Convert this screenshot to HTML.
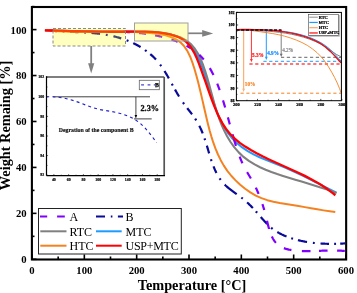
<!DOCTYPE html><html><head><meta charset="utf-8"><style>html,body{margin:0;padding:0;background:#fff;overflow:hidden}svg{display:block;will-change:transform}text{font-family:"Liberation Serif",serif}</style></head><body>
<svg width="357" height="293" viewBox="0 0 357 293">
<line x1="188" y1="33.3" x2="204" y2="33.3" stroke="#808080" stroke-width="1.7"/>
<path d="M202.2,30 L213.2,33.4 L202.2,36.8 Z" fill="#808080"/>
<line x1="91.2" y1="46" x2="91.2" y2="65" stroke="#808080" stroke-width="1.8"/>
<path d="M88.1,63.2 L91.2,73.6 L94.3,63.2 Z" fill="#808080"/>
<path d="M50.05,30.61 L50.63,30.67 L51.44,30.73 L52.25,30.80 L53.06,30.86 L53.86,30.92 L54.67,30.98 L55.48,31.04 L56.29,31.09 L57.03,31.14 M62.58,31.45 L62.77,31.46 L63.58,31.50 L64.39,31.54 L64.47,31.55 M70.03,31.79 L70.06,31.79 L70.87,31.83 L71.68,31.86 L72.49,31.90 L73.30,31.93 L74.11,31.96 L74.92,32.00 L75.73,32.04 L76.54,32.07 L77.34,32.11 L78.15,32.15 L78.53,32.16 M84.01,32.45 L84.61,32.49 L85.41,32.54 L85.90,32.57 M91.45,32.98 L91.84,33.01 L92.64,33.08 L93.44,33.15 L94.25,33.23 L95.04,33.31 L95.84,33.39 L96.64,33.47 L97.44,33.56 L98.24,33.65 L99.04,33.75 L99.83,33.85 L100.02,33.87 M105.80,34.73 L106.18,34.79 L106.97,34.93 L107.67,35.06 M113.42,36.25 L114.04,36.40 L114.82,36.59 L115.60,36.79 L116.38,36.99 L117.15,37.20 L117.93,37.41 L118.71,37.63 L119.48,37.86 L120.26,38.09 L121.03,38.33 L121.24,38.40 M126.67,40.31 L127.17,40.50 L127.92,40.80 L128.44,41.01 M133.23,43.13 L133.90,43.46 L134.63,43.82 L135.36,44.19 L136.09,44.56 L136.81,44.94 L137.53,45.33 L138.24,45.73 L138.95,46.13 L139.66,46.54 L140.36,46.96 L140.57,47.09 M145.11,50.05 L145.13,50.07 L145.79,50.54 L146.44,51.01 L146.64,51.17 M150.28,54.06 L150.84,54.55 L151.45,55.08 L152.04,55.62 L152.63,56.17 L153.21,56.72 L153.79,57.28 L154.35,57.85 L154.91,58.42 L155.46,59.00 L156.00,59.59 M160.11,64.57 L160.55,65.16 L161.02,65.80 L161.23,66.10 M164.56,71.08 L164.59,71.14 L165.02,71.82 L165.44,72.51 L165.86,73.20 L166.27,73.89 L166.68,74.59 L167.09,75.29 L167.50,75.99 L167.90,76.69 L168.30,77.39 L168.70,78.10 L168.86,78.38 M171.85,83.80 L172.22,84.48 L172.61,85.19 L172.76,85.47 M175.03,89.58 L175.35,90.15 L175.74,90.85 L176.14,91.55 L176.55,92.25 L176.95,92.95 L177.36,93.64 L177.76,94.34 L178.18,95.03 L178.59,95.72 L179.01,96.41 L179.07,96.50 M182.98,102.48 L183.45,103.14 L183.92,103.80 L184.09,104.03 M187.22,108.15 L187.35,108.31 L187.85,108.95 L188.36,109.59 L188.86,110.23 L189.36,110.86 L189.86,111.50 L190.36,112.14 L190.85,112.78 L191.35,113.42 L191.84,114.06 L192.02,114.31 M195.18,118.71 L195.56,119.29 L195.99,119.96 L196.21,120.30 M199.33,125.84 L199.51,126.19 L199.86,126.90 L200.21,127.62 L200.54,128.34 L200.88,129.06 L201.20,129.79 L201.52,130.52 L201.83,131.25 L202.14,131.99 L202.44,132.73 L202.71,133.40 M204.53,138.36 L204.67,138.78 L204.93,139.55 L205.13,140.16 M206.86,145.66 L206.89,145.77 L207.12,146.56 L207.36,147.34 L207.59,148.13 L207.82,148.92 L208.05,149.70 L208.29,150.49 L208.52,151.28 L208.75,152.07 L208.98,152.85 L209.14,153.39 M210.95,159.25 L211.16,159.88 L211.41,160.65 L211.55,161.05 M213.49,166.39 L213.62,166.71 L213.92,167.45 L214.22,168.19 L214.53,168.92 L214.85,169.65 L215.18,170.37 L215.51,171.09 L215.86,171.80 L216.21,172.51 L216.42,172.93 M219.60,178.35 L219.76,178.60 L220.21,179.24 L220.66,179.87 L220.69,179.91 M224.70,184.60 L224.75,184.65 L225.31,185.21 L225.89,185.76 L226.49,186.30 L227.09,186.83 L227.70,187.36 L228.32,187.88 L228.96,188.39 L229.60,188.90 L230.24,189.41 L230.89,189.91 L231.55,190.40 L232.22,190.90 L232.88,191.39 L233.55,191.88 L234.23,192.36 L234.90,192.85 L235.58,193.33 L236.26,193.82 L236.72,194.15 M241.32,197.53 L241.60,197.75 L242.24,198.25 L242.81,198.70 M247.11,202.39 L247.19,202.47 L247.78,203.01 L248.37,203.57 L248.95,204.12 L249.53,204.68 L250.10,205.24 L250.67,205.81 L251.23,206.38 L251.79,206.96 L252.35,207.54 L252.89,208.11 M255.89,211.38 L256.16,211.69 L256.69,212.29 L257.15,212.81 M260.80,217.04 L260.93,217.19 L261.46,217.81 L261.99,218.42 L262.53,219.03 L263.06,219.63 L263.60,220.23 L264.14,220.83 L264.69,221.43 L265.24,222.02 L265.79,222.60 L266.35,223.18 L266.91,223.75 L267.23,224.07 M271.20,227.70 L271.62,228.05 L272.24,228.54 L272.69,228.89 M277.32,232.01 L277.49,232.11 L278.17,232.51 L278.86,232.91 L279.56,233.29 L280.27,233.66 L280.98,234.02 L281.69,234.38 L282.42,234.73 L283.14,235.06 L283.87,235.39 L284.61,235.71 L285.35,236.03 L286.09,236.33 L286.52,236.50 M291.24,238.20 L291.39,238.25 L292.16,238.50 L292.93,238.74 L293.05,238.78 M297.94,240.13 L298.38,240.24 L299.17,240.43 L299.95,240.61 L300.74,240.79 L301.53,240.96 L302.33,241.13 L303.12,241.29 L303.92,241.45 L304.71,241.59 L305.51,241.74 L306.31,241.88 L307.03,242.00 M312.89,242.81 L313.55,242.89 L314.36,242.97 L314.78,243.02 M320.49,243.49 L320.84,243.51 L321.65,243.56 L322.46,243.60 L323.27,243.64 L324.09,243.67 L324.90,243.71 L325.71,243.73 L326.52,243.76 L327.33,243.78 L328.14,243.79 L328.95,243.81 L329.00,243.81 M334.16,243.81 L334.60,243.80 L335.41,243.79 L336.06,243.77 M340.21,243.64 L340.21,243.64 L341.01,243.61 L341.81,243.58 L342.60,243.54 L343.39,243.50 L344.19,243.45 L344.97,243.41" fill="none" stroke="#0a0a9a" stroke-width="2.2"/>
<path d="M44.88,30.35L50.95,30.50 56.96,30.66 63.67,30.83 70.33,31.01 76.96,31.18 83.57,31.35 90.16,31.49 96.76,31.62 103.36,31.72 109.98,31.79 116.63,31.83 123.32,31.82 130.06,31.77 136.10,31.70 142.17,31.66 148.23,31.75 154.27,32.01 160.27,32.55 166.92,33.56 173.44,35.10 179.67,37.34 184.71,40.09 189.07,43.67 193.20,48.59 196.64,54.21 199.55,60.30 201.81,65.89 204.11,72.21 206.22,78.54 208.22,84.89 210.17,91.26 212.14,97.65 214.19,104.06 216.16,109.74 218.60,116.03 221.37,122.13 224.54,127.98 228.20,133.48 232.40,138.56 237.10,143.21 242.23,147.41 247.74,151.14 253.55,154.40 259.60,157.26 265.80,159.85 272.06,162.31 278.29,164.79 284.45,167.36 290.56,170.03 296.60,172.82 302.60,175.71 308.57,178.69 314.51,181.70 320.46,184.72 326.43,187.71 332.42,190.64 336.44,192.53" fill="none" stroke="#1e9bff" stroke-width="2.0" stroke-linejoin="round"/>
<path d="M44.96,30.28L51.02,30.52 57.06,30.73 63.09,30.91 69.10,31.06 75.11,31.19 81.85,31.31 88.59,31.41 95.33,31.48 102.08,31.54 108.82,31.58 114.83,31.61 120.85,31.63 126.88,31.65 132.92,31.67 138.98,31.71 145.04,31.84 151.09,32.11 157.13,32.56 163.14,33.26 169.12,34.26 175.04,35.63 181.41,37.83 186.56,40.58 190.52,43.74 194.86,48.72 198.08,53.80 200.78,59.30 203.07,65.01 205.09,70.75 206.89,76.49 208.74,82.94 210.48,89.41 212.20,95.88 213.98,102.37 215.67,108.16 217.53,113.96 219.57,119.70 221.83,125.36 224.32,130.89 227.08,136.24 230.54,141.99 234.41,147.40 238.73,152.39 243.54,156.91 248.85,160.91 254.61,164.44 260.02,167.22 265.63,169.72 271.38,171.97 277.21,174.03 283.05,175.93 288.84,177.73 295.26,179.66 301.61,181.55 307.94,183.45 314.27,185.38 320.64,187.42 326.36,189.34 332.17,191.40 336.59,193.05" fill="none" stroke="#808080" stroke-width="2.1" stroke-linejoin="round"/>
<path d="M123.02,31.81 L123.46,31.83 L124.33,31.87 L125.19,31.91 L126.06,31.95 L126.92,32.00 L127.79,32.05 L128.65,32.10 L129.52,32.15 L130.02,32.19 M138.99,32.96 L139.02,32.96 L139.88,33.05 L140.74,33.15 L141.61,33.25 L142.47,33.35 L143.33,33.46 L144.19,33.57 L145.06,33.69 L145.92,33.81 L145.94,33.81 M155.11,35.35 L155.40,35.41 L156.26,35.58 L157.12,35.76 L157.98,35.94 L158.84,36.13 L159.71,36.32 L160.57,36.52 L161.43,36.73 L162.20,36.91 M171.48,39.53 L171.71,39.60 L172.55,39.88 L173.39,40.16 L174.23,40.45 L175.07,40.75 L175.91,41.06 L176.74,41.37 L177.56,41.69 L177.65,41.72 M186.54,45.80 L187.12,46.12 L187.88,46.54 L188.64,46.97 L189.38,47.41 L190.12,47.86 L190.85,48.32 L190.92,48.36 M199.35,54.86 L199.62,55.11 L200.22,55.70 L200.82,56.30 L201.41,56.91 L201.99,57.54 L202.56,58.17 L203.12,58.81 L203.67,59.46 L203.77,59.57 M209.79,68.17 L210.06,68.62 L210.49,69.37 L210.92,70.13 L211.35,70.89 L211.76,71.66 L212.17,72.44 L212.57,73.22 L212.97,74.00 L213.36,74.79 L213.43,74.93 M217.20,83.56 L217.26,83.71 L217.58,84.54 L217.90,85.37 L218.22,86.20 L218.53,87.03 L218.83,87.86 L219.14,88.70 L219.43,89.53 L219.67,90.21 M223.03,100.43 L223.28,101.24 L223.54,102.07 L223.79,102.91 L224.04,103.74 L224.29,104.58 L224.53,105.41 L224.78,106.25 L225.02,107.09 L225.14,107.49 M227.89,117.35 L228.06,117.94 L228.28,118.78 L228.51,119.61 L228.74,120.45 L228.96,121.28 L229.19,122.12 L229.42,122.95 L229.64,123.79 L229.80,124.38 M232.53,134.26 L232.63,134.64 L232.87,135.48 L233.11,136.31 L233.35,137.15 L233.59,137.98 L233.83,138.82 L234.07,139.65 L234.32,140.49 L234.57,141.32 L234.82,142.16 L235.07,142.99 L235.33,143.83 L235.58,144.66 L235.84,145.50 L235.97,145.89 M239.69,156.73 L239.83,157.10 L240.15,157.92 L240.47,158.73 L240.80,159.54 L241.14,160.35 L241.48,161.16 L241.83,161.96 L242.18,162.76 L242.44,163.33 M247.08,172.15 L247.45,172.78 L247.90,173.53 L248.35,174.28 L248.80,175.02 L249.25,175.77 L249.70,176.51 L250.15,177.26 L250.60,178.01 L250.90,178.52 M255.80,187.60 L255.99,188.00 L256.36,188.80 L256.73,189.59 L257.09,190.39 L257.44,191.18 L257.79,191.99 L258.13,192.79 L258.47,193.59 L258.62,193.96 M262.41,204.10 L262.66,204.86 L262.92,205.67 L263.18,206.48 L263.44,207.30 L263.69,208.11 L263.94,208.94 L264.19,209.76 L264.26,210.01 M266.98,220.65 L267.05,220.94 L267.25,221.83 L267.47,222.72 L267.68,223.61 L267.90,224.49 L268.12,225.37 L268.35,226.25 L268.58,227.13 L268.82,228.00 L269.07,228.87 L269.07,228.89 M271.84,236.45 L272.12,237.02 L272.50,237.77 L272.89,238.50 L273.31,239.22 L273.74,239.91 L274.19,240.59 L274.66,241.25 L275.15,241.89 L275.67,242.51 L275.97,242.85 M283.90,248.13 L284.51,248.35 L285.34,248.64 L286.19,248.90 L287.06,249.14 L287.93,249.36 L288.82,249.57 L289.72,249.76 L290.63,249.93 L291.41,250.06 M301.88,251.03 L302.61,251.05 L303.50,251.08 L304.39,251.10 L305.27,251.12 L306.15,251.13 L307.02,251.13 L307.89,251.13 L308.75,251.13 L309.61,251.12 L310.47,251.11 L310.51,251.11 M319.00,250.85 L319.71,250.82 L320.54,250.79 L321.37,250.75 L322.21,250.72 L323.04,250.69 L323.88,250.66 L324.71,250.63 L325.55,250.60 L326.39,250.57 L327.23,250.55 L327.59,250.54 M337.11,250.53 L337.62,250.55 L338.51,250.58 L339.42,250.62 L340.33,250.67 L341.25,250.72 L342.17,250.78 L343.10,250.85 L344.05,250.93 L344.80,250.99" fill="none" stroke="#8000ff" stroke-width="2.2"/>
<path d="M44.90,30.08L51.34,30.68 57.73,31.14 64.09,31.45 70.43,31.65 76.74,31.76 83.04,31.80 89.33,31.78 95.61,31.74 101.90,31.68 108.19,31.63 114.49,31.61 120.81,31.64 127.16,31.74 133.53,31.93 139.94,32.24 146.39,32.68 152.88,33.27 159.35,34.10 165.63,35.37 171.56,37.23 176.98,39.87 180.61,42.48 183.80,45.70 187.33,50.89 190.19,56.73 192.52,62.84 194.49,69.02 196.27,75.19 197.91,81.31 199.44,87.41 200.90,93.50 202.30,99.60 203.69,105.70 205.08,111.84 206.51,118.01 208.01,124.22 209.63,130.42 211.39,136.58 213.34,142.68 215.52,148.66 217.97,154.51 220.73,160.17 223.83,165.62 227.33,170.83 231.24,175.75 235.56,180.38 240.21,184.74 245.13,188.79 250.32,192.43 255.77,195.54 261.44,198.12 267.34,200.18 273.43,201.75 279.68,202.95 285.99,203.95 292.31,204.93 298.58,206.00 304.82,207.11 311.05,208.24 317.28,209.34 323.52,210.37 329.78,211.30 335.29,212.01" fill="none" stroke="#f58220" stroke-width="2.0" stroke-linejoin="round"/>
<path d="M44.93,30.33L51.66,30.52 58.35,30.71 65.01,30.89 71.65,31.07 78.27,31.23 84.88,31.37 91.49,31.50 98.09,31.61 104.70,31.69 111.32,31.74 117.96,31.76 124.62,31.75 131.32,31.70 138.04,31.64 144.77,31.67 151.49,31.89 158.18,32.40 164.82,33.31 171.38,34.73 177.74,36.80 182.89,39.42 186.79,42.46 190.53,46.74 194.00,52.33 196.58,57.74 198.85,63.37 200.94,69.01 203.18,75.27 205.35,81.49 207.50,87.67 209.69,93.87 211.96,100.10 214.38,106.37 216.71,111.92 219.25,117.37 222.44,123.29 226.04,128.88 230.11,134.03 234.73,138.67 239.80,142.83 245.21,146.60 250.87,150.06 256.66,153.29 262.56,156.33 268.54,159.23 274.58,162.02 280.65,164.75 286.74,167.46 292.82,170.19 298.86,172.98 304.84,175.88 310.74,178.92 316.53,182.14 322.19,185.60 327.70,189.32 333.04,193.36 335.35,195.26" fill="none" stroke="#ff0000" stroke-width="2.3" stroke-linejoin="round"/>
<rect x="53" y="28.5" width="72.5" height="17.5" fill="rgb(255,255,0)" fill-opacity="0.25" stroke="#8a8a8a" stroke-width="1" stroke-dasharray="3,2"/>
<rect x="134.5" y="23" width="53.5" height="18" fill="rgb(255,255,0)" fill-opacity="0.25" stroke="#a0a0a0" stroke-width="1"/>
<rect x="46.5" y="77.0" width="117.69999999999999" height="98.69999999999999" fill="#fff" stroke="none"/>
<line x1="46.5" y1="175.20" x2="48.1" y2="175.20" stroke="#000" stroke-width="0.6"/>
<text x="44.2" y="176.30" font-size="3.9" font-weight="bold" stroke="#000" stroke-width="0.18" text-anchor="end">92</text>
<line x1="46.5" y1="165.40" x2="47.5" y2="165.40" stroke="#000" stroke-width="0.6"/>
<line x1="46.5" y1="155.60" x2="48.1" y2="155.60" stroke="#000" stroke-width="0.6"/>
<text x="44.2" y="156.70" font-size="3.9" font-weight="bold" stroke="#000" stroke-width="0.18" text-anchor="end">94</text>
<line x1="46.5" y1="145.80" x2="47.5" y2="145.80" stroke="#000" stroke-width="0.6"/>
<line x1="46.5" y1="136.00" x2="48.1" y2="136.00" stroke="#000" stroke-width="0.6"/>
<text x="44.2" y="137.10" font-size="3.9" font-weight="bold" stroke="#000" stroke-width="0.18" text-anchor="end">96</text>
<line x1="46.5" y1="126.20" x2="47.5" y2="126.20" stroke="#000" stroke-width="0.6"/>
<line x1="46.5" y1="116.40" x2="48.1" y2="116.40" stroke="#000" stroke-width="0.6"/>
<text x="44.2" y="117.50" font-size="3.9" font-weight="bold" stroke="#000" stroke-width="0.18" text-anchor="end">98</text>
<line x1="46.5" y1="106.60" x2="47.5" y2="106.60" stroke="#000" stroke-width="0.6"/>
<line x1="46.5" y1="96.80" x2="48.1" y2="96.80" stroke="#000" stroke-width="0.6"/>
<text x="44.2" y="97.90" font-size="3.9" font-weight="bold" stroke="#000" stroke-width="0.18" text-anchor="end">100</text>
<line x1="46.5" y1="87.00" x2="47.5" y2="87.00" stroke="#000" stroke-width="0.6"/>
<line x1="46.5" y1="77.20" x2="48.1" y2="77.20" stroke="#000" stroke-width="0.6"/>
<text x="44.2" y="78.30" font-size="3.9" font-weight="bold" stroke="#000" stroke-width="0.18" text-anchor="end">102</text>
<line x1="53.88" y1="175.7" x2="53.88" y2="174.1" stroke="#000" stroke-width="0.6"/>
<text x="53.88" y="181.30" font-size="3.9" font-weight="bold" stroke="#000" stroke-width="0.18" text-anchor="middle">40</text>
<line x1="61.26" y1="175.7" x2="61.26" y2="174.7" stroke="#000" stroke-width="0.6"/>
<line x1="68.64" y1="175.7" x2="68.64" y2="174.1" stroke="#000" stroke-width="0.6"/>
<text x="68.64" y="181.30" font-size="3.9" font-weight="bold" stroke="#000" stroke-width="0.18" text-anchor="middle">60</text>
<line x1="76.02" y1="175.7" x2="76.02" y2="174.7" stroke="#000" stroke-width="0.6"/>
<line x1="83.40" y1="175.7" x2="83.40" y2="174.1" stroke="#000" stroke-width="0.6"/>
<text x="83.40" y="181.30" font-size="3.9" font-weight="bold" stroke="#000" stroke-width="0.18" text-anchor="middle">80</text>
<line x1="90.78" y1="175.7" x2="90.78" y2="174.7" stroke="#000" stroke-width="0.6"/>
<line x1="98.16" y1="175.7" x2="98.16" y2="174.1" stroke="#000" stroke-width="0.6"/>
<text x="98.16" y="181.30" font-size="3.9" font-weight="bold" stroke="#000" stroke-width="0.18" text-anchor="middle">100</text>
<line x1="105.54" y1="175.7" x2="105.54" y2="174.7" stroke="#000" stroke-width="0.6"/>
<line x1="112.92" y1="175.7" x2="112.92" y2="174.1" stroke="#000" stroke-width="0.6"/>
<text x="112.92" y="181.30" font-size="3.9" font-weight="bold" stroke="#000" stroke-width="0.18" text-anchor="middle">120</text>
<line x1="120.30" y1="175.7" x2="120.30" y2="174.7" stroke="#000" stroke-width="0.6"/>
<line x1="127.68" y1="175.7" x2="127.68" y2="174.1" stroke="#000" stroke-width="0.6"/>
<text x="127.68" y="181.30" font-size="3.9" font-weight="bold" stroke="#000" stroke-width="0.18" text-anchor="middle">140</text>
<line x1="135.06" y1="175.7" x2="135.06" y2="174.7" stroke="#000" stroke-width="0.6"/>
<line x1="142.44" y1="175.7" x2="142.44" y2="174.1" stroke="#000" stroke-width="0.6"/>
<text x="142.44" y="181.30" font-size="3.9" font-weight="bold" stroke="#000" stroke-width="0.18" text-anchor="middle">160</text>
<line x1="149.82" y1="175.7" x2="149.82" y2="174.7" stroke="#000" stroke-width="0.6"/>
<line x1="157.20" y1="175.7" x2="157.20" y2="174.1" stroke="#000" stroke-width="0.6"/>
<text x="157.20" y="181.30" font-size="3.9" font-weight="bold" stroke="#000" stroke-width="0.18" text-anchor="middle">180</text>
<line x1="53" y1="96.8" x2="150" y2="96.8" stroke="#404040" stroke-width="1"/>
<line x1="134" y1="118.9" x2="151.7" y2="118.9" stroke="#404040" stroke-width="1"/>
<line x1="135.9" y1="96.8" x2="135.9" y2="116" stroke="#202020" stroke-width="0.8"/>
<path d="M134.6,115 L135.9,118.6 L137.2,115 Z" fill="#000"/>
<path d="M46.20,96.80L52.21,96.71 58.41,97.21 64.54,98.24 70.59,99.73 76.55,101.59 82.19,103.66 87.79,105.83 93.65,107.90 99.63,109.48 105.76,110.56 111.69,111.53 117.60,112.75 123.39,114.35 129.20,116.52 134.68,119.32 139.71,122.84 144.25,127.13 148.24,131.70 152.03,136.39 155.66,141.37 156.58,142.81" fill="none" stroke="#2020d0" stroke-width="1.15" stroke-dasharray="3,3.2"/>
<text x="140.5" y="111.3" font-size="8.2" font-weight="bold" fill="#111" stroke="#111" stroke-width="0.3">2.3%</text>
<text x="58.7" y="131.8" font-size="5.85" font-weight="bold" fill="#111" stroke="#111" stroke-width="0.15">Degration of the component B</text>
<rect x="139.3" y="80.3" width="20" height="9.4" fill="#fff" stroke="#666" stroke-width="0.8"/>
<path d="M141.1,84.9 L144,84.9 M147.6,84.9 L150.4,84.9 M153.8,84.9 L155.3,84.9" stroke="#4545d8" stroke-width="1.1"/>
<text x="155.1" y="87.3" font-size="5.8" font-weight="bold" stroke="#000" stroke-width="0.25">B</text>
<line x1="46.5" y1="77.0" x2="164.2" y2="77.0" stroke="#555" stroke-width="1.7"/>
<line x1="164.2" y1="77.0" x2="164.2" y2="175.7" stroke="#555" stroke-width="1.7"/>
<line x1="46.5" y1="76.2" x2="46.5" y2="175.7" stroke="#000" stroke-width="1.2"/>
<line x1="46.5" y1="175.7" x2="165.0" y2="175.7" stroke="#000" stroke-width="1.2"/>
<rect x="236.4" y="12.4" width="104.99999999999997" height="88.3" fill="#fff" stroke="none"/>
<line x1="236.4" y1="100.70" x2="238.20000000000002" y2="100.70" stroke="#000" stroke-width="0.7"/>
<text x="234.6" y="102.20" font-size="4.1" font-weight="bold" stroke="#000" stroke-width="0.25" text-anchor="end">88</text>
<line x1="236.4" y1="94.39" x2="237.4" y2="94.39" stroke="#000" stroke-width="0.7"/>
<line x1="236.4" y1="88.08" x2="238.20000000000002" y2="88.08" stroke="#000" stroke-width="0.7"/>
<text x="234.6" y="89.58" font-size="4.1" font-weight="bold" stroke="#000" stroke-width="0.25" text-anchor="end">90</text>
<line x1="236.4" y1="81.77" x2="237.4" y2="81.77" stroke="#000" stroke-width="0.7"/>
<line x1="236.4" y1="75.46" x2="238.20000000000002" y2="75.46" stroke="#000" stroke-width="0.7"/>
<text x="234.6" y="76.96" font-size="4.1" font-weight="bold" stroke="#000" stroke-width="0.25" text-anchor="end">92</text>
<line x1="236.4" y1="69.15" x2="237.4" y2="69.15" stroke="#000" stroke-width="0.7"/>
<line x1="236.4" y1="62.84" x2="238.20000000000002" y2="62.84" stroke="#000" stroke-width="0.7"/>
<text x="234.6" y="64.34" font-size="4.1" font-weight="bold" stroke="#000" stroke-width="0.25" text-anchor="end">94</text>
<line x1="236.4" y1="56.53" x2="237.4" y2="56.53" stroke="#000" stroke-width="0.7"/>
<line x1="236.4" y1="50.22" x2="238.20000000000002" y2="50.22" stroke="#000" stroke-width="0.7"/>
<text x="234.6" y="51.72" font-size="4.1" font-weight="bold" stroke="#000" stroke-width="0.25" text-anchor="end">96</text>
<line x1="236.4" y1="43.91" x2="237.4" y2="43.91" stroke="#000" stroke-width="0.7"/>
<line x1="236.4" y1="37.60" x2="238.20000000000002" y2="37.60" stroke="#000" stroke-width="0.7"/>
<text x="234.6" y="39.10" font-size="4.1" font-weight="bold" stroke="#000" stroke-width="0.25" text-anchor="end">98</text>
<line x1="236.4" y1="31.29" x2="237.4" y2="31.29" stroke="#000" stroke-width="0.7"/>
<line x1="236.4" y1="24.98" x2="238.20000000000002" y2="24.98" stroke="#000" stroke-width="0.7"/>
<text x="234.6" y="26.48" font-size="4.1" font-weight="bold" stroke="#000" stroke-width="0.25" text-anchor="end">100</text>
<line x1="236.4" y1="18.67" x2="237.4" y2="18.67" stroke="#000" stroke-width="0.7"/>
<line x1="236.4" y1="12.36" x2="238.20000000000002" y2="12.36" stroke="#000" stroke-width="0.7"/>
<text x="234.6" y="13.86" font-size="4.1" font-weight="bold" stroke="#000" stroke-width="0.25" text-anchor="end">102</text>
<line x1="236.40" y1="100.7" x2="236.40" y2="98.9" stroke="#000" stroke-width="0.7"/>
<text x="236.40" y="105.90" font-size="4.5" font-weight="bold" stroke="#000" stroke-width="0.2" text-anchor="middle">200</text>
<line x1="246.95" y1="100.7" x2="246.95" y2="99.7" stroke="#000" stroke-width="0.7"/>
<line x1="257.50" y1="100.7" x2="257.50" y2="98.9" stroke="#000" stroke-width="0.7"/>
<text x="257.50" y="105.90" font-size="4.5" font-weight="bold" stroke="#000" stroke-width="0.2" text-anchor="middle">220</text>
<line x1="268.05" y1="100.7" x2="268.05" y2="99.7" stroke="#000" stroke-width="0.7"/>
<line x1="278.60" y1="100.7" x2="278.60" y2="98.9" stroke="#000" stroke-width="0.7"/>
<text x="278.60" y="105.90" font-size="4.5" font-weight="bold" stroke="#000" stroke-width="0.2" text-anchor="middle">240</text>
<line x1="289.15" y1="100.7" x2="289.15" y2="99.7" stroke="#000" stroke-width="0.7"/>
<line x1="299.70" y1="100.7" x2="299.70" y2="98.9" stroke="#000" stroke-width="0.7"/>
<text x="299.70" y="105.90" font-size="4.5" font-weight="bold" stroke="#000" stroke-width="0.2" text-anchor="middle">260</text>
<line x1="310.25" y1="100.7" x2="310.25" y2="99.7" stroke="#000" stroke-width="0.7"/>
<line x1="320.80" y1="100.7" x2="320.80" y2="98.9" stroke="#000" stroke-width="0.7"/>
<text x="320.80" y="105.90" font-size="4.5" font-weight="bold" stroke="#000" stroke-width="0.2" text-anchor="middle">280</text>
<line x1="331.35" y1="100.7" x2="331.35" y2="99.7" stroke="#000" stroke-width="0.7"/>
<line x1="341.90" y1="100.7" x2="341.90" y2="98.9" stroke="#000" stroke-width="0.7"/>
<text x="341.90" y="105.90" font-size="4.5" font-weight="bold" stroke="#000" stroke-width="0.2" text-anchor="middle">300</text>
<line x1="281" y1="57.3" x2="341" y2="57.3" stroke="#555" stroke-width="0.9" stroke-dasharray="3.2,2.6"/>
<line x1="263.4" y1="61.3" x2="341" y2="61.3" stroke="#1e9bff" stroke-width="1" stroke-dasharray="3.2,2.6"/>
<line x1="249.4" y1="64" x2="341" y2="64" stroke="#ff4a4a" stroke-width="1.4" stroke-dasharray="3.2,2.6"/>
<line x1="240.5" y1="93.2" x2="341" y2="93.2" stroke="#f58220" stroke-width="1" stroke-dasharray="3.2,2.6"/>
<line x1="243.6" y1="30" x2="243.6" y2="89.4" stroke="#f9b27a" stroke-width="1.3"/>
<path d="M242.2,88.8 L243.6,92 L245.0,88.8 Z" fill="#f9b27a"/>
<line x1="251.4" y1="30" x2="251.4" y2="59.699999999999996" stroke="#ff3030" stroke-width="1.0"/>
<path d="M250.0,59.099999999999994 L251.4,62.3 L252.8,59.099999999999994 Z" fill="#ff3030"/>
<line x1="266.3" y1="30" x2="266.3" y2="57.4" stroke="#1e9bff" stroke-width="1.0"/>
<path d="M264.90000000000003,56.8 L266.3,60.0 L267.7,56.8 Z" fill="#1e9bff"/>
<line x1="281.2" y1="30" x2="281.2" y2="54.4" stroke="#707070" stroke-width="0.9"/>
<path d="M279.8,53.8 L281.2,57.0 L282.59999999999997,53.8 Z" fill="#707070"/>
<text x="244.8" y="86.4" font-size="5.2" font-weight="bold" fill="#f58220" stroke="#f58220" stroke-width="0.15">10%</text>
<text x="252.1" y="57" font-size="5.2" font-weight="bold" fill="#ff1a1a" stroke="#ff1a1a" stroke-width="0.2">5.3%</text>
<text x="267.2" y="55" font-size="5.2" font-weight="bold" fill="#1a8cff" stroke="#1a8cff" stroke-width="0.2">4.9%</text>
<text x="282.2" y="51.5" font-size="5.2" fill="#606060" stroke="#606060" stroke-width="0.1">4.2%</text>
<path d="M236.40,29.90L242.52,29.78 248.61,30.19 254.69,30.94 260.75,31.81 266.79,32.67 272.81,33.61 278.80,34.76 284.75,36.21 290.62,38.00 296.37,40.10 301.96,42.52 307.31,45.39 312.35,48.83 317.11,52.70 321.41,57.03 325.18,61.82 328.55,66.92 331.68,72.18 334.60,77.54 337.26,83.03 339.59,88.67 340.99,92.71" fill="none" stroke="#f58220" stroke-width="0.9"/>
<path d="M236.42,29.97L242.52,30.11 248.67,30.27 254.86,30.48 261.07,30.76 267.28,31.15 273.26,31.65 279.44,32.33 285.58,33.19 291.67,34.28 297.70,35.61 303.65,37.22 309.51,39.14 315.25,41.40 320.82,44.05 326.15,47.16 331.19,50.75 336.23,54.32 340.93,56.71" fill="none" stroke="#808080" stroke-width="1.0"/>
<path d="M236.41,29.81L242.49,29.80 248.62,29.78 254.79,29.80 260.98,29.89 267.17,30.08 273.36,30.41 279.53,30.92 285.65,31.65 291.73,32.62 297.73,33.88 303.65,35.47 309.47,37.42 315.17,39.76 320.66,42.56 325.83,45.88 330.58,49.78 334.88,54.22 338.99,58.85 340.97,61.03" fill="none" stroke="#1e9bff" stroke-width="1.0"/>
<path d="M236.40,29.60L242.40,29.56 248.61,29.56 254.80,29.63 260.98,29.81 267.14,30.11 273.30,30.57 279.46,31.22 285.63,32.09 291.54,33.16 297.39,34.48 303.38,36.15 309.25,38.15 314.96,40.52 320.39,43.39 325.39,46.98 330.04,51.11 334.29,55.37 338.49,59.95 341.02,62.87" fill="none" stroke="#e81010" stroke-width="1.4"/>
<line x1="236.4" y1="29.9" x2="281.5" y2="29.9" stroke="#2a0008" stroke-width="1.5" stroke-dasharray="3.2,1.5"/>
<rect x="309.2" y="15" width="30.5" height="21.6" fill="#a8a8a8"/>
<rect x="308.4" y="14.3" width="30.3" height="21.2" fill="#fff" stroke="#444" stroke-width="0.6"/>
<line x1="309.3" y1="17.20" x2="317.8" y2="17.20" stroke="#808080" stroke-width="0.9"/>
<text x="318.8" y="18.70" font-size="4.3" font-weight="bold" stroke="#000" stroke-width="0.22">RTC</text>
<line x1="309.3" y1="22.45" x2="317.8" y2="22.45" stroke="#1e9bff" stroke-width="1.2"/>
<text x="318.8" y="23.95" font-size="4.3" font-weight="bold" stroke="#000" stroke-width="0.22">MTC</text>
<line x1="309.3" y1="27.70" x2="317.8" y2="27.70" stroke="#f9a860" stroke-width="1.2"/>
<text x="318.8" y="29.20" font-size="4.3" font-weight="bold" stroke="#000" stroke-width="0.22">HTC</text>
<line x1="309.3" y1="32.95" x2="317.8" y2="32.95" stroke="#ff5a5a" stroke-width="1.8"/>
<text x="318.8" y="34.45" font-size="4.3" font-weight="bold" stroke="#000" stroke-width="0.22">USP+MTC</text>
<rect x="236.4" y="12.4" width="104.99999999999997" height="88.3" fill="none" stroke="#000" stroke-width="1.0"/>
<rect x="38.5" y="208.5" width="142.8" height="45.5" fill="#fff" stroke="#222" stroke-width="1"/>
<path d="M40,216.5 L47.2,216.5 M57.1,216.5 L64.8,216.5" stroke="#8000ff" stroke-width="2.2"/>
<line x1="40.3" y1="231.3" x2="66.5" y2="231.3" stroke="#808080" stroke-width="2"/>
<line x1="40.3" y1="245.7" x2="66.5" y2="245.7" stroke="#f58220" stroke-width="2"/>
<path d="M96,216.5 L105,216.5 M110.8,216.5 L112.4,216.5 M117.9,216.5 L123,216.5" stroke="#0a0a9a" stroke-width="2.2"/>
<line x1="96" y1="231.3" x2="121.7" y2="231.3" stroke="#1e9bff" stroke-width="2"/>
<line x1="96" y1="245.7" x2="121.7" y2="245.7" stroke="#ff0000" stroke-width="2"/>
<text x="69.5" y="220.5" font-size="12">A</text>
<text x="69.5" y="235.5" font-size="12">RTC</text>
<text x="69.5" y="249.9" font-size="12">HTC</text>
<text x="125.5" y="220.5" font-size="12">B</text>
<text x="125.5" y="235.5" font-size="12">MTC</text>
<text x="125.5" y="249.9" font-size="12" textLength="53.2">USP+MTC</text>
<rect x="31.9" y="7" width="314.25" height="252.5" fill="none" stroke="#000" stroke-width="2.1"/>
<line x1="32" y1="259.30" x2="36.5" y2="259.30" stroke="#000" stroke-width="1.6"/>
<text x="26.6" y="263.20" font-size="10.7" font-weight="bold" text-anchor="end">0</text>
<line x1="32" y1="236.33" x2="34.5" y2="236.33" stroke="#000" stroke-width="1.6"/>
<line x1="32" y1="213.36" x2="36.5" y2="213.36" stroke="#000" stroke-width="1.6"/>
<text x="26.6" y="217.26" font-size="10.7" font-weight="bold" text-anchor="end">20</text>
<line x1="32" y1="190.39" x2="34.5" y2="190.39" stroke="#000" stroke-width="1.6"/>
<line x1="32" y1="167.42" x2="36.5" y2="167.42" stroke="#000" stroke-width="1.6"/>
<text x="26.6" y="171.32" font-size="10.7" font-weight="bold" text-anchor="end">40</text>
<line x1="32" y1="144.45" x2="34.5" y2="144.45" stroke="#000" stroke-width="1.6"/>
<line x1="32" y1="121.48" x2="36.5" y2="121.48" stroke="#000" stroke-width="1.6"/>
<text x="26.6" y="125.38" font-size="10.7" font-weight="bold" text-anchor="end">60</text>
<line x1="32" y1="98.51" x2="34.5" y2="98.51" stroke="#000" stroke-width="1.6"/>
<line x1="32" y1="75.54" x2="36.5" y2="75.54" stroke="#000" stroke-width="1.6"/>
<text x="26.6" y="79.44" font-size="10.7" font-weight="bold" text-anchor="end">80</text>
<line x1="32" y1="52.57" x2="34.5" y2="52.57" stroke="#000" stroke-width="1.6"/>
<line x1="32" y1="29.60" x2="36.5" y2="29.60" stroke="#000" stroke-width="1.6"/>
<text x="26.6" y="33.50" font-size="10.7" font-weight="bold" text-anchor="end">100</text>
<line x1="32" y1="6.63" x2="34.5" y2="6.63" stroke="#000" stroke-width="1.6"/>
<line x1="32.00" y1="259" x2="32.00" y2="254.5" stroke="#000" stroke-width="1.6"/>
<text x="32.00" y="273.9" font-size="10.7" font-weight="bold" text-anchor="middle">0</text>
<line x1="58.17" y1="259" x2="58.17" y2="256.5" stroke="#000" stroke-width="1.6"/>
<line x1="84.33" y1="259" x2="84.33" y2="254.5" stroke="#000" stroke-width="1.6"/>
<text x="84.33" y="273.9" font-size="10.7" font-weight="bold" text-anchor="middle">100</text>
<line x1="110.50" y1="259" x2="110.50" y2="256.5" stroke="#000" stroke-width="1.6"/>
<line x1="136.67" y1="259" x2="136.67" y2="254.5" stroke="#000" stroke-width="1.6"/>
<text x="136.67" y="273.9" font-size="10.7" font-weight="bold" text-anchor="middle">200</text>
<line x1="162.83" y1="259" x2="162.83" y2="256.5" stroke="#000" stroke-width="1.6"/>
<line x1="189.00" y1="259" x2="189.00" y2="254.5" stroke="#000" stroke-width="1.6"/>
<text x="189.00" y="273.9" font-size="10.7" font-weight="bold" text-anchor="middle">300</text>
<line x1="215.17" y1="259" x2="215.17" y2="256.5" stroke="#000" stroke-width="1.6"/>
<line x1="241.33" y1="259" x2="241.33" y2="254.5" stroke="#000" stroke-width="1.6"/>
<text x="241.33" y="273.9" font-size="10.7" font-weight="bold" text-anchor="middle">400</text>
<line x1="267.50" y1="259" x2="267.50" y2="256.5" stroke="#000" stroke-width="1.6"/>
<line x1="293.67" y1="259" x2="293.67" y2="254.5" stroke="#000" stroke-width="1.6"/>
<text x="293.67" y="273.9" font-size="10.7" font-weight="bold" text-anchor="middle">500</text>
<line x1="319.83" y1="259" x2="319.83" y2="256.5" stroke="#000" stroke-width="1.6"/>
<line x1="346.00" y1="259" x2="346.00" y2="254.5" stroke="#000" stroke-width="1.6"/>
<text x="346.00" y="273.9" font-size="10.7" font-weight="bold" text-anchor="middle">600</text>
<text x="137.7" y="289.6" font-size="14.3" font-weight="bold">Temperature [°C]</text>
<text transform="translate(10.3,190.2) rotate(-90)" x="0" y="0" font-size="14.3" font-weight="bold">Weight Remaing [%]</text>
</svg></body></html>
